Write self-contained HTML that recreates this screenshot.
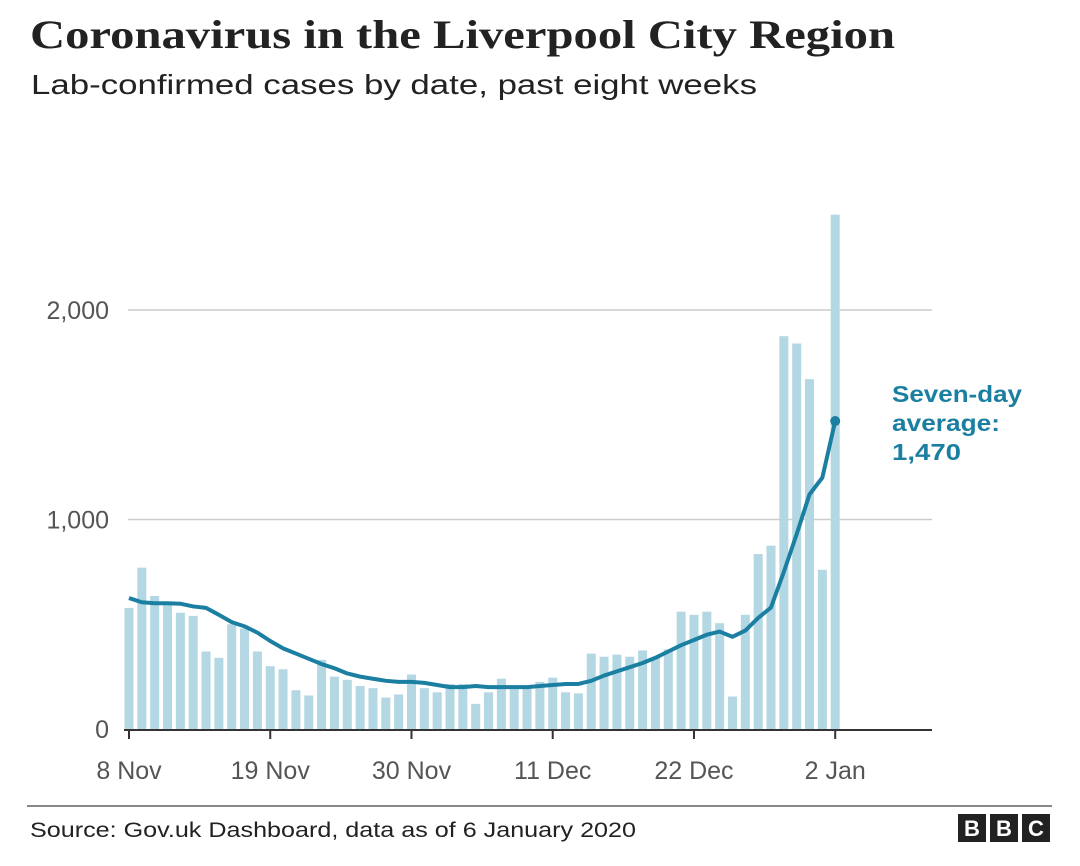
<!DOCTYPE html>
<html><head><meta charset="utf-8">
<style>
body{margin:0;background:#fff;width:1080px;height:861px;overflow:hidden;font-family:"Liberation Sans",sans-serif;}
</style></head>
<body>
<svg width="1080" height="861" xmlns="http://www.w3.org/2000/svg">
<text x="30" y="48" font-family="Liberation Serif, serif" font-weight="bold" font-size="40" fill="#222" textLength="865" lengthAdjust="spacingAndGlyphs">Coronavirus in the Liverpool City Region</text>
<text x="31" y="94" font-size="28" fill="#222" textLength="726" lengthAdjust="spacingAndGlyphs">Lab-confirmed cases by date, past eight weeks</text>
<g id="grid"></g>
<g id="bars"></g>
<g id="line"></g>
<g id="xaxis"></g>
<g font-weight="bold" font-size="23" fill="#1a7fa1">
<text x="892" y="402" textLength="130" lengthAdjust="spacingAndGlyphs">Seven-day</text>
<text x="892" y="431" textLength="108" lengthAdjust="spacingAndGlyphs">average:</text>
<text x="892" y="460" textLength="69" lengthAdjust="spacingAndGlyphs">1,470</text>
</g>
<line x1="27" y1="806" x2="1052" y2="806" stroke="#888" stroke-width="2"/>
<text x="30" y="837" font-size="21" fill="#222" textLength="606" lengthAdjust="spacingAndGlyphs">Source: Gov.uk Dashboard, data as of 6 January 2020</text>
<g font-weight="bold" font-size="22" fill="#fff" text-anchor="middle">
<rect x="958" y="814" width="28" height="28" fill="#222"/><text x="972" y="836">B</text>
<rect x="990" y="814" width="28" height="28" fill="#222"/><text x="1004" y="836">B</text>
<rect x="1022" y="814" width="28" height="28" fill="#222"/><text x="1036" y="836">C</text>
</g>
</svg>
<script>
const cases=[578,770,635,600,555,540,370,340,500,480,370,300,285,185,160,330,250,235,205,195,150,165,260,195,175,215,215,120,175,240,190,200,225,245,175,170,360,345,355,345,375,340,380,560,545,560,505,155,545,835,875,1875,1840,1670,760,2455];
const avg=[625,605,600,600,598,585,578,545,510,490,460,420,385,360,335,310,290,265,250,240,230,225,225,220,210,200,200,205,200,200,200,200,205,210,215,215,230,255,275,295,315,340,370,400,425,450,465,440,470,530,580,750,930,1120,1200,1470];
const yTicks=[0,1000,2000];
const yTickLabels=["0","1,000","2,000"];
const xTickIdx=[0,11,22,33,44,55];
const xTickLabels=["8 Nov","19 Nov","30 Nov","11 Dec","22 Dec","2 Jan"];
const NS="http://www.w3.org/2000/svg";
const x=i=>129+i*12.84;
const y=v=>729-v*0.2095;
function mk(t,a,p){const e=document.createElementNS(NS,t);for(const k in a)e.setAttribute(k,a[k]);p.appendChild(e);return e;}
const grid=document.getElementById('grid');
yTicks.forEach((v,i)=>{
  if(v>0){const l=mk('line',{x1:128,x2:932,y1:y(v),y2:y(v),stroke:'#ccc','stroke-width':1.5},grid);
  
  }
  const t=mk('text',{x:109,y:y(v)+9,'text-anchor':'end','font-size':25,fill:'#555'},grid);
  t.textContent=yTickLabels[i];
  
  
});
const bars=document.getElementById('bars');
cases.forEach((v,i)=>{
  const r=mk('rect',{x:x(i)-4.5,y:y(v),width:9,height:729-y(v),fill:'#b3d7e3'},bars);
  
  
});
const lg=document.getElementById('line');
const p=mk('polyline',{points:avg.map((v,i)=>x(i)+','+y(v)).join(' '),fill:'none',stroke:'#1a7fa1','stroke-width':4,'stroke-linejoin':'round'},lg);


const d=mk('circle',{cx:x(avg.length-1),cy:y(avg[avg.length-1]),r:5,fill:'#1a7fa1'},lg);


const xa=document.getElementById('xaxis');
const ax=mk('line',{x1:124,x2:932,y1:730,y2:730,stroke:'#333','stroke-width':2},xa);


xTickIdx.forEach((idx,i)=>{
  const tk=mk('line',{x1:x(idx),x2:x(idx),y1:730,y2:739,stroke:'#333','stroke-width':2},xa);
  
  
  const t=mk('text',{x:x(idx),y:779,'text-anchor':'middle','font-size':25,fill:'#555'},xa);
  t.textContent=xTickLabels[i];
  
  
});
</script>
</body></html>
